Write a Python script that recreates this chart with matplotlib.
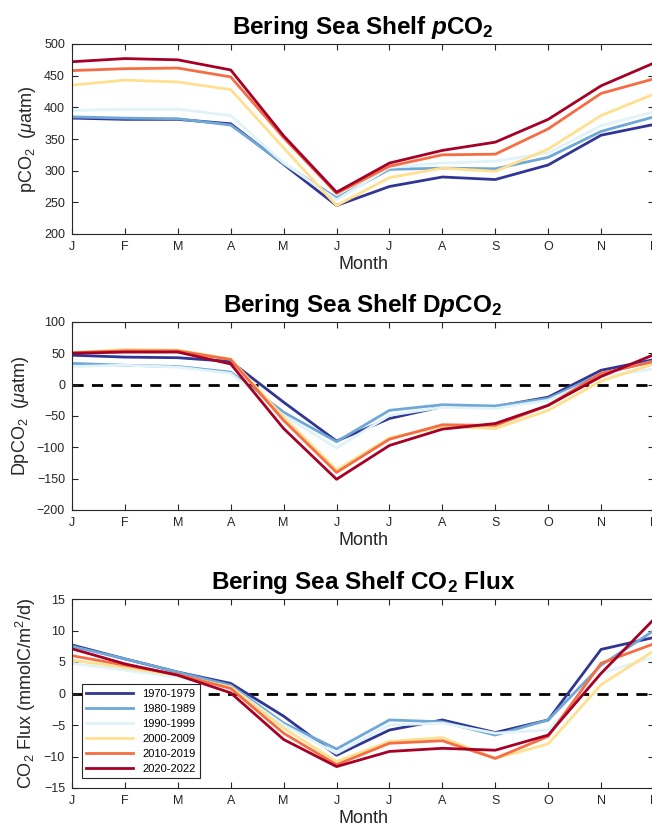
import numpy as np
from matplotlib import pyplot as plt

plt.rcParams["font.family"] = ["Liberation Sans", "DejaVu Sans"]
plt.rcParams["mathtext.fontset"] = "custom"
plt.rcParams["mathtext.rm"] = "Liberation Sans"
plt.rcParams["mathtext.it"] = "Liberation Sans:italic"
plt.rcParams["mathtext.bf"] = "Liberation Sans:bold"
plt.rcParams["mathtext.bfit"] = "Liberation Sans:italic:bold"

months = ["J", "F", "M", "A", "M", "J", "J", "A", "S", "O", "N", "D"]
decades = ["1970-1979", "1980-1989", "1990-1999", "2000-2009", "2010-2019", "2020-2022"]
colors = ["#313695", "#6fa8d6", "#e0f3f8", "#fee090", "#f46d43", "#a50026"]

pco2 = [
    [383, 381, 381, 374, 310, 245, 275, 290, 286, 309, 356, 373],
    [385, 383, 382, 372, 311, 257, 302, 304, 303, 321, 362, 385],
    [395, 397, 397, 387, 312, 254, 305, 312, 315, 328, 371, 393],
    [435, 443, 440, 428, 336, 245, 289, 304, 299, 334, 387, 421],
    [458, 461, 462, 448, 352, 264, 307, 325, 326, 366, 422, 445],
    [472, 477, 475, 459, 355, 266, 312, 332, 345, 381, 434, 470],
]

dpco2 = [
    [47, 44, 43, 37, -28, -90, -54, -35, -35, -20, 23, 40],
    [34, 31, 29, 20, -44, -91, -41, -32, -34, -22, 17, 38],
    [29, 31, 28, 18, -49, -101, -49, -36, -38, -25, 13, 25],
    [51, 56, 55, 41, -52, -136, -85, -67, -70, -41, 6, 33],
    [51, 54, 54, 40, -57, -140, -87, -64, -65, -33, 18, 37],
    [50, 52, 52, 33, -70, -151, -97, -71, -62, -33, 13, 48],
]

flux = [
    [7.7, 5.5, 3.4, 1.6, -3.6, -9.8, -5.8, -4.2, -6.2, -4.2, 7.0, 8.9],
    [7.5, 5.5, 3.4, 1.3, -4.7, -8.8, -4.2, -4.5, -6.6, -4.2, 4.5, 10.0],
    [4.8, 3.7, 2.6, 1.0, -5.0, -9.5, -5.0, -4.7, -6.3, -5.8, 3.2, 5.8],
    [5.3, 4.1, 2.9, 1.0, -5.5, -10.8, -7.6, -7.0, -10.3, -8.0, 1.4, 6.8],
    [6.0, 4.5, 3.0, 0.8, -6.3, -11.3, -7.9, -7.5, -10.3, -6.8, 4.8, 7.9],
    [7.1, 4.7, 2.9, 0.1, -7.3, -11.6, -9.2, -8.7, -9.0, -6.6, 3.2, 11.8],
]

x = np.arange(1, 13)

fig = plt.figure(figsize=(6.52, 8.24), dpi=100)
ax_w = 582 / 652
axes = [
    fig.add_axes([72 / 652, 590 / 824, ax_w, 190 / 824]),
    fig.add_axes([72 / 652, 314 / 824, ax_w, 188 / 824]),
    fig.add_axes([72 / 652, 36 / 824, ax_w, 189 / 824]),
]

panels = [
    (pco2, (200, 500), np.arange(200, 501, 50), r"Bering Sea Shelf $\mathbfit{p}$CO$_\mathbf{2}$",
     r"pCO$_2$  ($\mu$atm)", False),
    (dpco2, (-200, 100), np.arange(-200, 101, 50), r"Bering Sea Shelf D$\mathbfit{p}$CO$_\mathbf{2}$",
     r"DpCO$_2$  ($\mu$atm)", True),
    (flux, (-15, 15), np.arange(-15, 16, 5), r"Bering Sea Shelf CO$_\mathbf{2}$ Flux",
     "CO$_2$ Flux (mmolC/m$^2$/d)", True),
]

for ax, (data, ylim, yticks, title, ylabel, zero) in zip(axes, panels):
    if zero:
        ax.axhline(0, color="black", linestyle=(0, (4, 3)), linewidth=2, zorder=1)
    for vals, lab, c in zip(data, decades, colors):
        ax.plot(x, vals, color=c, linewidth=2, label=lab, zorder=2)
    ax.set_xlim(1, 12)
    ax.set_ylim(*ylim)
    ax.set_xticks(x)
    ax.set_xticklabels(months)
    ax.set_yticks(yticks)
    ax.tick_params(direction="in", top=True, right=True, labelsize=9,
                   colors="#262626", length=4, width=0.8, pad=5)
    for s in ax.spines.values():
        s.set_color("#262626")
        s.set_linewidth(0.8)
    ax.set_xlabel("Month", fontsize=13, color="#262626", labelpad=2)
    ax.set_ylabel(ylabel, fontsize=13, color="#262626", labelpad=4)
    ax.set_title(title, fontsize=17.5, fontweight="bold", pad=7)

leg = axes[2].legend(loc="lower left", fontsize=8, frameon=True, fancybox=False,
                     edgecolor="#262626", framealpha=1, handlelength=4.2,
                     borderaxespad=0.9, labelspacing=0.45, borderpad=0.4)
leg.get_frame().set_linewidth(0.8)

fig.savefig("out.png", dpi=100)
